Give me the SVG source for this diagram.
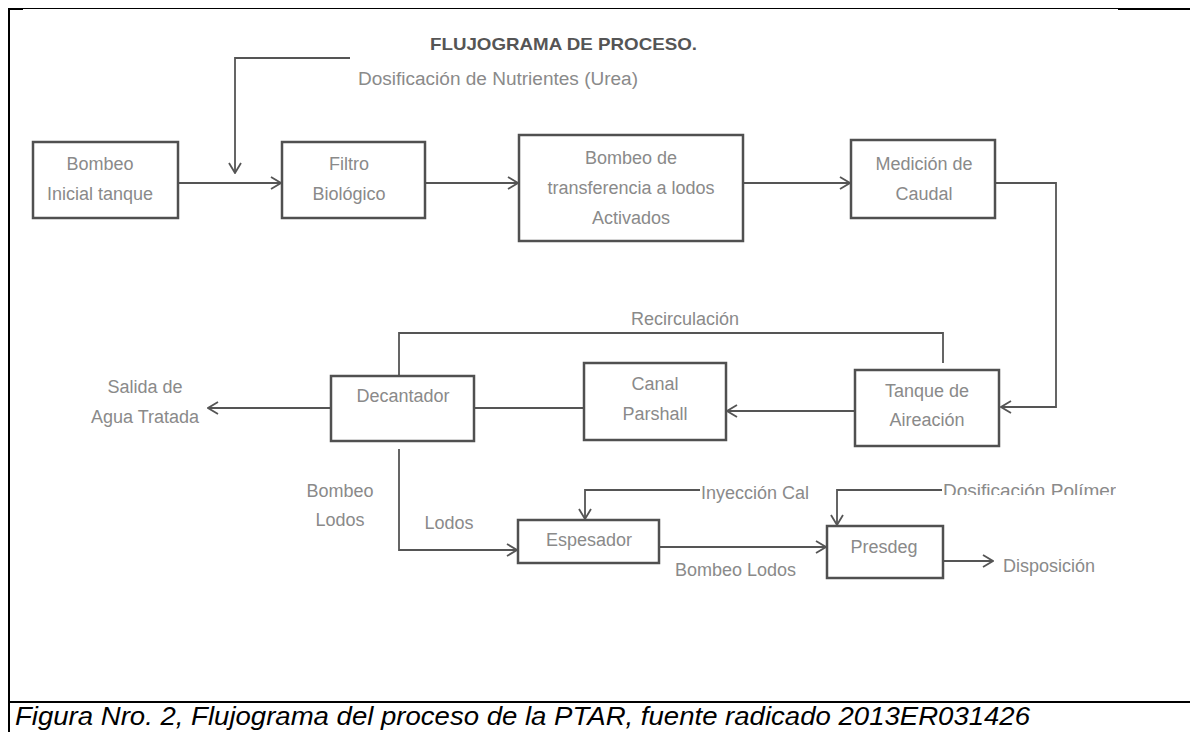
<svg xmlns="http://www.w3.org/2000/svg" width="1190" height="732" viewBox="0 0 1190 732">
<style>
.box{fill:#ffffff;stroke:#505050;stroke-width:2.5}
.lbl{font-family:"Liberation Sans",Arial,sans-serif;font-size:18px;fill:#8a8a8a}
.mid{text-anchor:middle}
.ttl{font-family:"Liberation Sans",Arial,sans-serif;font-size:17px;font-weight:bold;fill:#555555}
.cap{font-family:"Liberation Sans",Arial,sans-serif;font-size:26px;font-style:italic;fill:#000000}
.con{fill:none;stroke:#555555;stroke-width:1.8}
.frame{stroke:#000000;fill:none}
</style>
<defs>
<marker id="arr" viewBox="0 0 12 14" refX="11" refY="7" markerWidth="12" markerHeight="14" markerUnits="userSpaceOnUse" orient="auto">
<path d="M1,1 L11,7 L1,13" fill="none" stroke="#555555" stroke-width="1.8"/>
</marker>
<clipPath id="clipPol"><rect x="900" y="470" width="216" height="25"/></clipPath>
</defs>
<rect x="0" y="0" width="1190" height="732" fill="#ffffff"/>
<g id="frame">
<line class="frame" x1="8" y1="8.5" x2="1118" y2="8.5" stroke-width="1"/>
<line class="frame" x1="1118" y1="9" x2="1190" y2="9" stroke-width="2"/>
<line class="frame" x1="9" y1="8" x2="9" y2="732" stroke-width="2"/>
<line class="frame" x1="8" y1="9" x2="23" y2="9" stroke-width="2"/>
<line class="frame" x1="8" y1="702" x2="1190" y2="702" stroke-width="2"/>
</g>
<text id="title" class="ttl" x="430" y="50" textLength="267" lengthAdjust="spacingAndGlyphs">FLUJOGRAMA DE PROCESO.</text>
<g id="connectors">
<path class="con" d="M350,58 H235 V173" marker-end="url(#arr)"/>
<path class="con" d="M178,183 H281" marker-end="url(#arr)"/>
<path class="con" d="M425,183 H518" marker-end="url(#arr)"/>
<path class="con" d="M743,183 H850" marker-end="url(#arr)"/>
<path class="con" d="M995,183 H1056 V407 H1001" marker-end="url(#arr)"/>
<path class="con" d="M855,411 H727" marker-end="url(#arr)"/>
<path class="con" d="M584,408 H474"/>
<path class="con" d="M331,408 H208" marker-end="url(#arr)"/>
<path class="con" d="M399,376 V333 H943 V363"/>
<path class="con" d="M399,449 V550 H517" marker-end="url(#arr)"/>
<path class="con" d="M700,490 H585 V519" marker-end="url(#arr)"/>
<path class="con" d="M942,490 H837 V525" marker-end="url(#arr)"/>
<path class="con" d="M659,547 H826" marker-end="url(#arr)"/>
<path class="con" d="M943,561 H993" marker-end="url(#arr)"/>
</g>
<g id="labels">
<text class="lbl" x="358" y="85" textLength="280" lengthAdjust="spacingAndGlyphs">Dosificación de Nutrientes (Urea)</text>
<text class="lbl mid" x="145" y="393">Salida de</text>
<text class="lbl mid" x="145" y="423">Agua Tratada</text>
<text class="lbl mid" x="685" y="325">Recirculación</text>
<text class="lbl mid" x="340" y="497">Bombeo</text>
<text class="lbl mid" x="340" y="526">Lodos</text>
<text class="lbl mid" x="449" y="529">Lodos</text>
<text class="lbl" x="701" y="499">Inyección Cal</text>
<text class="lbl" x="943" y="497" style="font-size:19px" clip-path="url(#clipPol)">Dosificación Polímero</text>
<text class="lbl" x="675" y="576">Bombeo Lodos</text>
<text class="lbl" x="1003" y="572">Disposición</text>
</g>
<g id="bombeo-inicial">
<rect class="box" x="33" y="142" width="145" height="76"/>
<text class="lbl mid" x="100" y="170">Bombeo</text>
<text class="lbl mid" x="100" y="200">Inicial tanque</text>
</g>
<g id="filtro-biologico">
<rect class="box" x="282" y="142" width="143" height="76"/>
<text class="lbl mid" x="349" y="170">Filtro</text>
<text class="lbl mid" x="349" y="200">Biológico</text>
</g>
<g id="bombeo-transferencia">
<rect class="box" x="519" y="135" width="224" height="106"/>
<text class="lbl mid" x="631" y="164">Bombeo de</text>
<text class="lbl mid" x="631" y="194">transferencia a lodos</text>
<text class="lbl mid" x="631" y="224">Activados</text>
</g>
<g id="medicion-caudal">
<rect class="box" x="851" y="140" width="144" height="78"/>
<text class="lbl mid" x="924" y="170">Medición de</text>
<text class="lbl mid" x="924" y="200">Caudal</text>
</g>
<g id="tanque-aireacion">
<rect class="box" x="855" y="370" width="144" height="76"/>
<text class="lbl mid" x="927" y="397">Tanque de</text>
<text class="lbl mid" x="927" y="426">Aireación</text>
</g>
<g id="canal-parshall">
<rect class="box" x="584" y="363" width="142" height="77"/>
<text class="lbl mid" x="655" y="390">Canal</text>
<text class="lbl mid" x="655" y="420">Parshall</text>
</g>
<g id="decantador">
<rect class="box" x="331" y="376" width="143" height="65"/>
<text class="lbl mid" x="403" y="402">Decantador</text>
</g>
<g id="espesador">
<rect class="box" x="518" y="520" width="141" height="43"/>
<text class="lbl mid" x="589" y="546">Espesador</text>
</g>
<g id="presdeg">
<rect class="box" x="827" y="526" width="116" height="52"/>
<text class="lbl mid" x="884" y="553">Presdeg</text>
</g>
<text id="caption" class="cap" x="15" y="725" textLength="1015" lengthAdjust="spacingAndGlyphs">Figura Nro. 2, Flujograma del proceso de la PTAR, fuente radicado 2013ER031426</text>
</svg>
